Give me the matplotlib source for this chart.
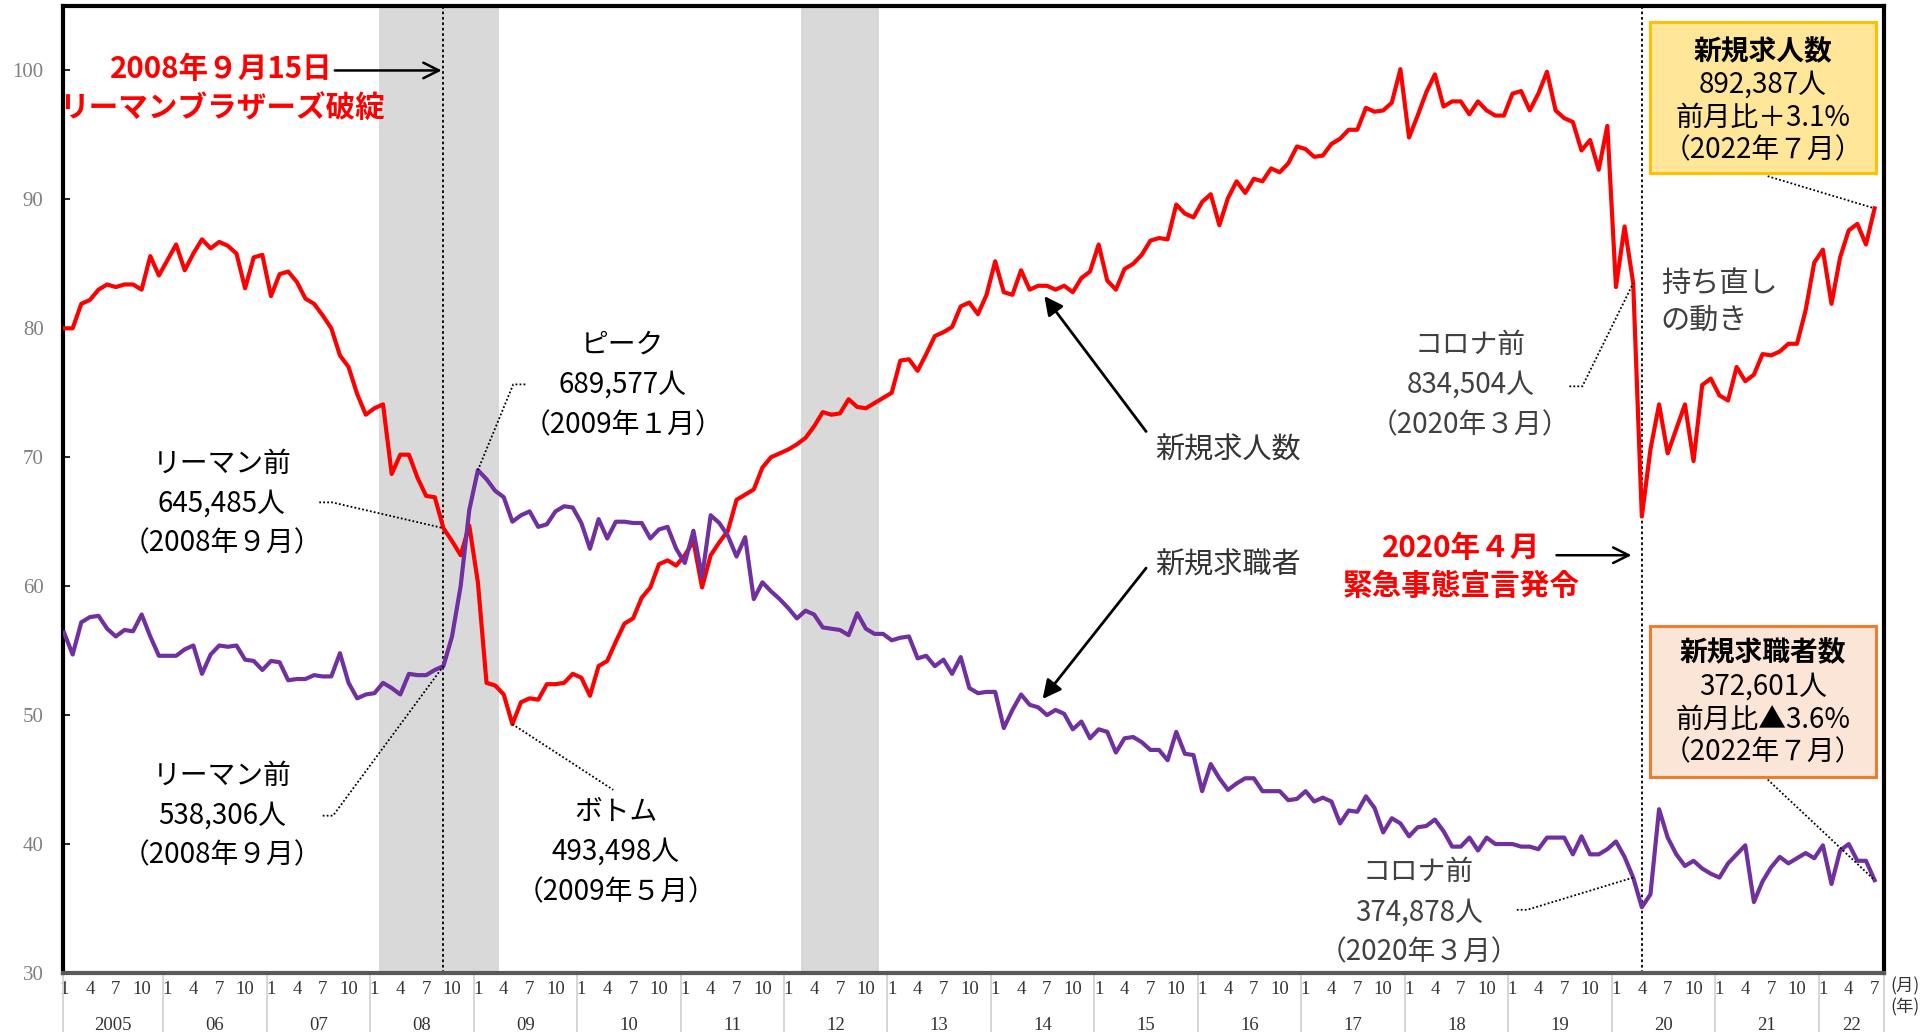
"""新規求人数・新規求職者数の推移 (2005年1月～2022年7月, 季節調整値, 万人)."""
import matplotlib
matplotlib.use("Agg")
import matplotlib.pyplot as plt
from matplotlib.patches import Rectangle
from matplotlib.transforms import blended_transform_factory

plt.rcParams["font.family"] = ["Noto Sans CJK JP", "DejaVu Sans"]
plt.rcParams["axes.unicode_minus"] = False

# 新規求人数 (万人) 2005-01 .. 2022-07
openings = [
    80.0, 80.0, 81.9, 82.2, 83.0, 83.4, 83.2, 83.4, 83.4, 83.0,
    85.6, 84.1, 85.3, 86.5, 84.5, 85.8, 86.9, 86.2, 86.7, 86.4,
    85.8, 83.1, 85.5, 85.7, 82.5, 84.2, 84.4, 83.6, 82.3, 81.9,
    81.0, 80.0, 77.9, 77.0, 74.9, 73.3, 73.8, 74.1, 68.7, 70.2,
    70.2, 68.4, 67.0, 66.9, 64.5, 63.5, 62.4, 64.7, 60.3, 52.5,
    52.3, 51.6, 49.3, 51.0, 51.3, 51.2, 52.4, 52.4, 52.5, 53.2,
    52.9, 51.5, 53.8, 54.2, 55.7, 57.1, 57.5, 59.1, 59.9, 61.7,
    62.0, 61.6, 62.4, 63.5, 59.9, 62.4, 63.4, 64.3, 66.7, 67.1,
    67.5, 69.2, 70.0, 70.3, 70.6, 71.0, 71.5, 72.4, 73.5, 73.3,
    73.4, 74.5, 73.9, 73.8, 74.2, 74.6, 75.0, 77.5, 77.6, 76.7,
    78.0, 79.4, 79.7, 80.1, 81.7, 82.0, 81.1, 82.6, 85.2, 82.8,
    82.6, 84.5, 83.0, 83.3, 83.3, 83.0, 83.3, 82.8, 83.9, 84.4,
    86.5, 83.7, 83.0, 84.6, 85.0, 85.7, 86.8, 87.0, 86.9, 89.6,
    88.9, 88.6, 89.8, 90.4, 88.0, 90.1, 91.4, 90.5, 91.6, 91.4,
    92.4, 92.1, 92.8, 94.1, 93.9, 93.3, 93.4, 94.3, 94.7, 95.4,
    95.4, 97.1, 96.8, 96.9, 97.5, 100.1, 94.8, 96.5, 98.3, 99.7,
    97.2, 97.6, 97.6, 96.6, 97.6, 96.9, 96.5, 96.5, 98.2, 98.4,
    96.9, 98.2, 99.9, 96.9, 96.3, 96.0, 93.8, 94.6, 92.3, 95.7,
    83.2, 87.9, 83.5, 65.4, 70.6, 74.1, 70.3, 72.2, 74.1, 69.7,
    75.6, 76.1, 74.8, 74.4, 77.0, 75.9, 76.4, 78.0, 77.9, 78.2,
    78.8, 78.8, 81.4, 85.1, 86.1, 81.9, 85.5, 87.6, 88.1, 86.5, 89.3,
]

# 新規求職者数 (万人)
seekers = [
    56.4, 54.7, 57.2, 57.6, 57.7, 56.7, 56.1, 56.6, 56.5, 57.8,
    56.1, 54.6, 54.6, 54.6, 55.1, 55.4, 53.2, 54.7, 55.4, 55.3,
    55.4, 54.3, 54.2, 53.5, 54.2, 54.1, 52.7, 52.8, 52.8, 53.1,
    53.0, 53.0, 54.8, 52.5, 51.3, 51.6, 51.7, 52.5, 52.1, 51.6,
    53.2, 53.1, 53.1, 53.5, 53.8, 56.1, 60.0, 65.9, 69.0, 68.3,
    67.4, 66.9, 65.0, 65.5, 65.8, 64.6, 64.8, 65.8, 66.2, 66.1,
    64.9, 62.9, 65.2, 63.7, 65.0, 65.0, 64.9, 64.9, 63.7, 64.4,
    64.6, 62.9, 61.8, 64.3, 60.7, 65.5, 64.9, 63.9, 62.3, 63.8,
    59.0, 60.3, 59.6, 59.0, 58.3, 57.5, 58.1, 57.8, 56.8, 56.7,
    56.6, 56.2, 57.9, 56.7, 56.3, 56.3, 55.8, 56.0, 56.1, 54.4,
    54.6, 53.8, 54.3, 53.2, 54.5, 52.1, 51.7, 51.8, 51.8, 49.0,
    50.4, 51.6, 50.8, 50.6, 50.0, 50.4, 50.1, 48.9, 49.5, 48.2,
    48.9, 48.7, 47.1, 48.2, 48.3, 47.9, 47.3, 47.3, 46.5, 48.7,
    47.0, 46.9, 44.1, 46.2, 45.1, 44.2, 44.7, 45.1, 45.1, 44.1,
    44.1, 44.1, 43.4, 43.5, 44.1, 43.3, 43.6, 43.3, 41.6, 42.6,
    42.5, 43.7, 42.8, 40.9, 42.0, 41.6, 40.6, 41.3, 41.4, 41.9,
    41.0, 39.8, 39.8, 40.5, 39.5, 40.5, 40.0, 40.0, 40.0, 39.8,
    39.8, 39.6, 40.5, 40.5, 40.5, 39.2, 40.6, 39.2, 39.2, 39.6,
    40.2, 39.0, 37.4, 35.1, 36.1, 42.7, 40.5, 39.2, 38.3, 38.7,
    38.1, 37.7, 37.4, 38.5, 39.2, 39.9, 35.5, 37.1, 38.2, 39.0,
    38.5, 38.9, 39.3, 38.9, 39.9, 36.9, 39.5, 40.0, 38.7, 38.7, 37.2,
]

START_YEAR = 2005
YEAR_LABELS = ["2005", "06", "07", "08", "09", "10", "11", "12", "13",
               "14", "15", "16", "17", "18", "19", "20", "21", "22"]
MONTH_LABELS = ["1", "4", "7", "10"]
Y_TICKS = [30, 40, 50, 60, 70, 80, 90, 100]

# 景気後退期 (開始年月, 終了年月)
RECESSIONS = [((2008, 2), (2009, 3)), ((2012, 3), (2012, 11))]
LEHMAN = (2008, 9)
BOTTOM = (2009, 5)
PEAK = (2009, 1)
COVID_PRE = (2020, 3)
EMERGENCY = (2020, 4)

RED = "#FF0000"
PURPLE = "#7030A0"
SHADE = "#D9D9D9"


def idx(ym):
    y, m = ym
    return (y - START_YEAR) * 12 + m - 1


def main():
    n = len(openings)
    x = list(range(n))
    xmax = n + 0.1

    fig = plt.figure(figsize=(19.33, 10.32), dpi=100)
    ax = fig.add_axes([0.0326, 0.0572, 0.9421, 0.937])

    for s, e in RECESSIONS:
        ax.axvspan(idx(s) - 0.5, idx(e) + 0.5, color=SHADE, lw=0, zorder=0)

    for ev in (LEHMAN, EMERGENCY):
        ax.axvline(idx(ev), color="black", lw=1.3, ls=(0, (1.5, 1.5)), zorder=1)

    ax.plot(x, openings, color=RED, lw=3.0, zorder=3)
    ax.plot(x, seekers, color=PURPLE, lw=3.0, zorder=3)

    ax.set_xlim(-0.12, xmax)
    ax.set_ylim(30, 105)

    # y軸
    ax.set_yticks(Y_TICKS)
    ax.set_yticklabels([str(v) for v in Y_TICKS], fontfamily="Liberation Serif",
                       fontsize=15, color="#7F7F7F")
    ax.tick_params(axis="y", direction="in", length=5, width=1.2, pad=14)

    # x軸 (月と年)
    mpos, mlab = [], []
    for yi in range(len(YEAR_LABELS)):
        for k, ml in enumerate(MONTH_LABELS):
            p = yi * 12 + k * 3
            if p < n:
                mpos.append(p)
                mlab.append(ml)
    ax.set_xticks(mpos)
    ax.set_xticklabels(mlab, fontfamily="Liberation Serif", fontsize=13.5, color="#333333")
    ax.tick_params(axis="x", length=0, pad=6)

    trans = blended_transform_factory(ax.transData, ax.transAxes)
    for yi, yl in enumerate(YEAR_LABELS):
        left = yi * 12 - 0.5
        right = min(left + 12, xmax)
        ax.text((max(left, -0.12) + right) / 2, -0.054, yl, transform=trans,
                ha="center", va="center", fontsize=13.5, fontfamily="Liberation Serif",
                color="#333333")
        ax.plot([max(left, -0.12)] * 2, [0, -0.065], transform=trans, color="#D0D0D0",
                lw=1.2, clip_on=False)
    ax.plot([xmax] * 2, [0, -0.065], transform=trans, color="#D0D0D0", lw=1.2, clip_on=False)
    ax.text(1.0115, -0.0134, "(月)", transform=ax.transAxes, ha="center", va="center",
            fontsize=12.5, color="#333333")
    ax.text(1.0115, -0.036, "(年)", transform=ax.transAxes, ha="center", va="center",
            fontsize=12.5, color="#333333")

    for side in ("left", "top", "right"):
        ax.spines[side].set_linewidth(3.0)
        ax.spines[side].set_color("black")
    ax.spines["bottom"].set_linewidth(3.0)
    ax.spines["bottom"].set_color("#595959")

    dot = dict(color="black", lw=1.3, ls=(0, (1, 1.2)), zorder=4)
    note = dict(fontsize=20, ha="center", va="center", linespacing=1.44)

    # リーマンショック
    ax.text(18.3, 98.6, "2008年９月15日\nリーマンブラザーズ破綻", color=RED, fontsize=21.3,
            fontweight="bold", ha="center", va="center", linespacing=1.36)
    ax.annotate("", xy=(idx(LEHMAN) - 0.2, 100), xytext=(31.4, 100),
                arrowprops=dict(arrowstyle="->", lw=1.8, color="black", mutation_scale=28,
                                shrinkA=0, shrinkB=0))

    li = idx(LEHMAN)
    ax.text(18.3, 66.4, "リーマン前\n645,485人\n（2008年９月）", **note)
    ax.plot([29.6, 31.1, li], [66.5, 66.5, openings[li]], **dot)

    ax.text(18.3, 42.2, "リーマン前\n538,306人\n（2008年９月）", **note)
    ax.plot([30.0, 31.2, li], [42.2, 42.2, seekers[li]], **dot)

    pi = idx(PEAK)
    ax.text(64.8, 75.6, "ピーク\n689,577人\n（2009年１月）", **note)
    ax.plot([53.5, 52.1, pi], [75.65, 75.65, seekers[pi]], **dot)

    bi = idx(BOTTOM)
    ax.text(64.0, 39.4, "ボトム\n493,498人\n（2009年５月）", **note)
    ax.plot([bi, 63.7], [openings[bi], 44.2], **dot)

    # 系列ラベル
    ax.text(126.6, 70.5, "新規求人数", fontsize=21, color="#333333", ha="left", va="center")
    ax.annotate("", xy=(113.7, 82.5), xytext=(125.5, 72.0),
                arrowprops=dict(arrowstyle="-|>", lw=2.0, color="black", mutation_scale=28,
                                shrinkA=0, shrinkB=0))
    ax.text(126.6, 61.6, "新規求職者", fontsize=21, color="#333333", ha="left", va="center")
    ax.annotate("", xy=(113.5, 51.25), xytext=(125.5, 61.4),
                arrowprops=dict(arrowstyle="-|>", lw=2.0, color="black", mutation_scale=28,
                                shrinkA=0, shrinkB=0))

    # コロナ
    ci = idx(COVID_PRE)
    ax.text(163.1, 75.6, "コロナ前\n834,504人\n（2020年３月）", color="#404040", **note)
    ax.plot([174.6, 176.1, ci], [75.5, 75.5, openings[ci]], **dot)

    ax.text(157.1, 34.7, "コロナ前\n374,878人\n（2020年３月）", color="#404040", **note)
    ax.plot([168.5, 169.7, ci], [34.9, 34.9, seekers[ci]], **dot)

    ax.text(185.2, 82.0, "持ち直し\nの動き", fontsize=21, color="#404040",
            ha="left", va="center", linespacing=1.32)

    ax.text(162.1, 61.5, "2020年４月\n緊急事態宣言発令", color=RED, fontsize=21.3,
            fontweight="bold", ha="center", va="center", linespacing=1.34)
    ax.annotate("", xy=(idx(EMERGENCY) - 1.2, 62.4), xytext=(173.1, 62.4),
                arrowprops=dict(arrowstyle="->", lw=1.8, color="black", mutation_scale=28,
                                shrinkA=0, shrinkB=0))

    # 最新値ボックス
    last = n - 1
    boxes = [
        (0.8273, "#FFE699", "#FFC000",
         ["新規求人数", "892,387人", "前月比＋3.1%", "（2022年７月）"],
         [0.9524, 0.9183, 0.8842, 0.8511], openings[last], 91.8),
        (0.2027, "#FBE5D6", "#ED7D31",
         ["新規求職者数", "372,601人", "前月比▲3.6%", "（2022年７月）"],
         [0.3309, 0.2958, 0.2616, 0.2285], seekers[last], 45.0),
    ]
    for y0, fc, ec, lines, ly, target, leader_y in boxes:
        ax.add_patch(Rectangle((0.8715, y0), 0.1241, 0.1562, transform=ax.transAxes,
                               facecolor=fc, edgecolor=ec, lw=2.2, zorder=5))
        for j, (t, yy) in enumerate(zip(lines, ly)):
            ax.text(0.9336, yy, t, transform=ax.transAxes, ha="center", va="center",
                    fontsize=20, fontweight="bold" if j == 0 else "normal", zorder=6)
        ax.plot([197.6, last], [leader_y, target], **dot)

    fig.savefig("out.png", dpi=100, facecolor="white")


if __name__ == "__main__":
    main()
